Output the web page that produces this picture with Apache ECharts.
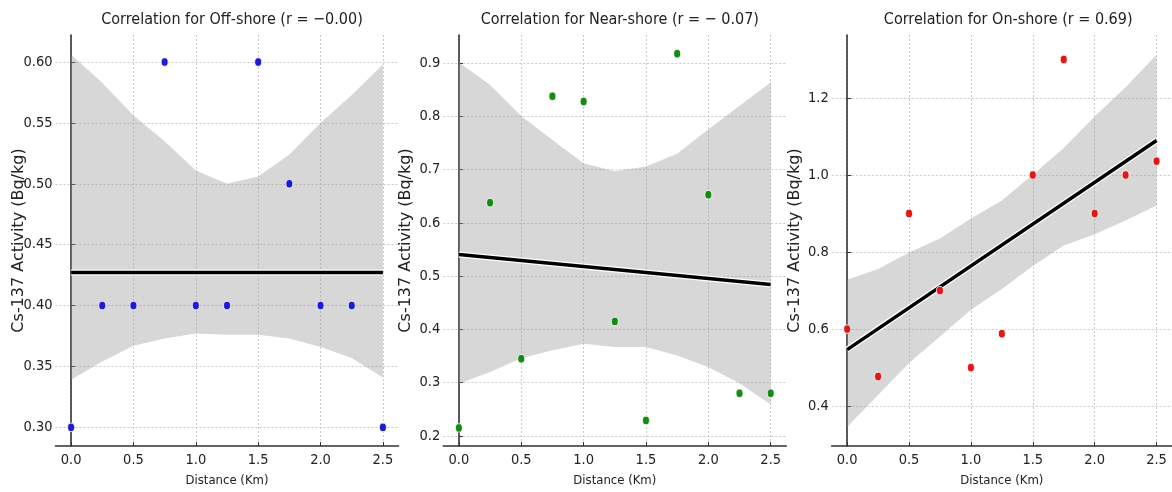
<!DOCTYPE html>
<html>
<head>
<meta charset="utf-8">
<script src="https://cdn.jsdelivr.net/npm/echarts@6/dist/echarts.min.js"></script>
<style>
html,body{margin:0;padding:0;background:#fff;}
#chart{width:1172px;height:492px;}
</style>
</head>
<body>
<div id="chart"></div>
<script>
// ---- data ----
const distanceKm = [0, 0.25, 0.5, 0.75, 1.0, 1.25, 1.5, 1.75, 2.0, 2.25, 2.5];

const offshore  = [0.30, 0.40, 0.40, 0.60, 0.40, 0.40, 0.60, 0.50, 0.40, 0.40, 0.30];
const nearshore = [0.215, 0.638, 0.345, 0.838, 0.828, 0.415, 0.229, 0.918, 0.653, 0.280, 0.280];
const onshore   = [0.600, 0.477, 0.900, 0.700, 0.500, 0.588, 1.000, 1.300, 0.900, 1.000, 1.036];

// confidence band edges (read at distanceKm)
const offshoreUpper  = [0.606, 0.583, 0.556, 0.535, 0.511, 0.500, 0.506, 0.524, 0.550, 0.573, 0.598];
const offshoreLower  = [0.339, 0.354, 0.367, 0.373, 0.377, 0.376, 0.376, 0.373, 0.366, 0.357, 0.341];
const nearshoreUpper = [0.902, 0.859, 0.801, 0.756, 0.712, 0.697, 0.706, 0.730, 0.776, 0.820, 0.864];
const nearshoreLower = [0.298, 0.320, 0.346, 0.361, 0.373, 0.367, 0.367, 0.351, 0.329, 0.299, 0.259];
const onshoreUpper   = [0.728, 0.756, 0.799, 0.835, 0.887, 0.934, 1.001, 1.070, 1.152, 1.228, 1.312];
const onshoreLower   = [0.346, 0.429, 0.512, 0.581, 0.650, 0.704, 0.764, 0.817, 0.846, 0.882, 0.921];

const titles = [
  'Correlation for Off-shore (r = \u22120.00)',
  'Correlation for Near-shore (r = \u2212 0.07)',
  'Correlation for On-shore (r = 0.69)'
];
const xTicks = [0, 0.5, 1.0, 1.5, 2.0, 2.5];
const yTicksOff  = [0.30, 0.35, 0.40, 0.45, 0.50, 0.55, 0.60];
const yTicksNear = [0.2, 0.3, 0.4, 0.5, 0.6, 0.7, 0.8, 0.9];
const yTicksOn   = [0.4, 0.6, 0.8, 1.0, 1.2];
const xName = 'Distance (Km)';
const yName = 'Cs-137 Activity (Bq/kg)';

// ---- helpers ----
function linreg(xs, ys) {
  const n = xs.length;
  const mx = xs.reduce((a, b) => a + b, 0) / n;
  const my = ys.reduce((a, b) => a + b, 0) / n;
  let sxy = 0, sxx = 0;
  for (let i = 0; i < n; i++) { sxy += (xs[i] - mx) * (ys[i] - my); sxx += (xs[i] - mx) ** 2; }
  const b = sxy / sxx;
  return { a: my - b * mx, b };
}

const narrow = "'Liberation Sans Narrow', 'DejaVu Sans Condensed', 'Roboto Condensed', 'Liberation Sans', sans-serif";

const panels = [
  { pts: offshore,  up: offshoreUpper,  lo: offshoreLower,  color: '#1c1cd4', yTicks: yTicksOff,  ymin: 0.2847, ymax: 0.6222, dec: 2, left: 55.5 },
  { pts: nearshore, up: nearshoreUpper, lo: nearshoreLower, color: '#158a15', yTicks: yTicksNear, ymin: 0.181,  ymax: 0.953,  dec: 1, left: 443.3 },
  { pts: onshore,   up: onshoreUpper,   lo: onshoreLower,   color: '#e01818', yTicks: yTicksOn,   ymin: 0.2965, ymax: 1.3635, dec: 1, left: 831.7 }
];
const gridW = 343, gridTop = 35, gridH = 411;

const option = { animation: false, backgroundColor: '#fff', title: [], grid: [], xAxis: [], yAxis: [], series: [] };

const axisLineStyle = { color: '#333333', width: 1.6 };
const splitStyle = { show: true, lineStyle: { color: '#c9c9c9', type: [2, 2], width: 1 } };

panels.forEach((p, i) => {
  option.title.push({
    text: titles[i],
    left: p.left + gridW / 2, top: 7, textAlign: 'center',
    textStyle: { fontFamily: narrow, fontSize: 16, fontWeight: 'normal', color: '#222' }
  });
  option.grid.push({ left: p.left, top: gridTop, width: gridW, height: gridH, containLabel: false });
  option.xAxis.push({
    type: 'value', gridIndex: i, min: -0.125, max: 2.625,
    name: xName, nameLocation: 'middle', nameGap: 28, nameMoveOverlap: false,
    nameTextStyle: { fontFamily: narrow, fontSize: 13, color: '#222' },
    axisLine: { show: true, lineStyle: axisLineStyle },
    axisTick: { show: true, inside: true, length: 4, lineStyle: { color: '#333333' }, customValues: xTicks },
    axisLabel: { customValues: xTicks, formatter: v => v.toFixed(1), fontFamily: narrow, fontSize: 14.5, color: '#222', margin: 7 },
    splitLine: splitStyle
  });
  option.yAxis.push({
    type: 'value', gridIndex: i, min: p.ymin, max: p.ymax,
    name: yName, nameLocation: 'middle', nameGap: 29, nameRotate: 90, nameMoveOverlap: false,
    nameTextStyle: { fontFamily: "'DejaVu Sans', sans-serif", fontSize: 16, color: '#222' },
    axisLine: { show: true, lineStyle: axisLineStyle },
    axisTick: { show: true, inside: true, length: 4, lineStyle: { color: '#333333' }, customValues: p.yTicks },
    axisLabel: { customValues: p.yTicks, formatter: v => v.toFixed(p.dec), fontFamily: narrow, fontSize: 14.5, color: '#222', margin: 3 },
    splitLine: splitStyle
  });

  // confidence band polygon
  option.series.push({
    type: 'custom', xAxisIndex: i, yAxisIndex: i, silent: true, z: 1,
    data: [[distanceKm[0], p.lo[0]]],
    renderItem: (params, api) => {
      const top = distanceKm.map((x, k) => api.coord([x, p.up[k]]));
      const bot = distanceKm.map((x, k) => api.coord([x, p.lo[k]])).reverse();
      return { type: 'polygon', shape: { points: top.concat(bot) }, style: { fill: 'rgba(150,150,150,0.38)' } };
    }
  });

  // regression line
  const r = linreg(distanceKm, p.pts);
  const x0 = distanceKm[0], x1 = distanceKm[distanceKm.length - 1];
  const lineData = [[x0, r.a + r.b * x0], [x1, r.a + r.b * x1]];
  option.series.push({
    type: 'line', xAxisIndex: i, yAxisIndex: i, symbol: 'none', silent: true,
    lineStyle: { color: '#ffffff', width: 6 }, data: lineData, z: 2
  });
  option.series.push({
    type: 'line', xAxisIndex: i, yAxisIndex: i, symbol: 'none', silent: true,
    lineStyle: { color: '#000000', width: 3.5 }, data: lineData, z: 3
  });

  // scatter points
  option.series.push({
    type: 'scatter', xAxisIndex: i, yAxisIndex: i, symbol: 'circle', symbolSize: [7, 8.5],
    itemStyle: { color: p.color, borderColor: '#ffffff', borderWidth: 0.8, opacity: 1 },
    data: distanceKm.map((x, k) => [x, p.pts[k]]), z: 4
  });
});

const chart = echarts.init(document.getElementById('chart'), null, { renderer: 'canvas' });
chart.setOption(option);
</script>
</body>
</html>
